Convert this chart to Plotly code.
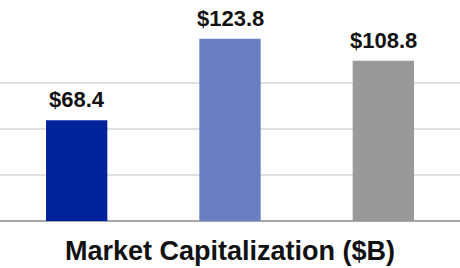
import plotly.graph_objects as go

categories = ["A", "B", "C"]
values = [68.4, 123.8, 108.8]
labels = ["$68.4", "$123.8", "$108.8"]
colors = ["#00239C", "#6A7FC2", "#999999"]
title_text = "Market Capitalization ($B)"

fig = go.Figure()
fig.add_trace(go.Bar(x=categories, y=values, marker=dict(color=colors, line=dict(width=0)),
                     width=0.4, hoverinfo="skip"))

for c, v, t in zip(categories, values, labels):
    fig.add_annotation(x=c, y=v, text="<b>%s</b>" % t, showarrow=False, yanchor="bottom",
                       yshift=6, font=dict(family="Liberation Sans", size=22, color="#111111"))

fig.update_layout(
    width=460, height=268,
    margin=dict(l=0, r=0, t=37, b=47),
    paper_bgcolor="white", plot_bgcolor="white",
    showlegend=False,
    xaxis=dict(showticklabels=False, ticks="", showgrid=False, zeroline=False,
               showline=False, range=[-0.5, 2.5],
               title=dict(text="<b>%s</b>" % title_text, standoff=20,
                          font=dict(family="Liberation Sans", size=27, color="#111111"))),
    yaxis=dict(range=[0, 125], tickvals=[31.25, 62.5, 93.75, 125], showticklabels=False,
               ticks="", showgrid=True, gridcolor="#E0E0E0", gridwidth=1.5,
               zeroline=True, zerolinecolor="#A6A6A6", zerolinewidth=2),
)

fig.write_html("out.html")
